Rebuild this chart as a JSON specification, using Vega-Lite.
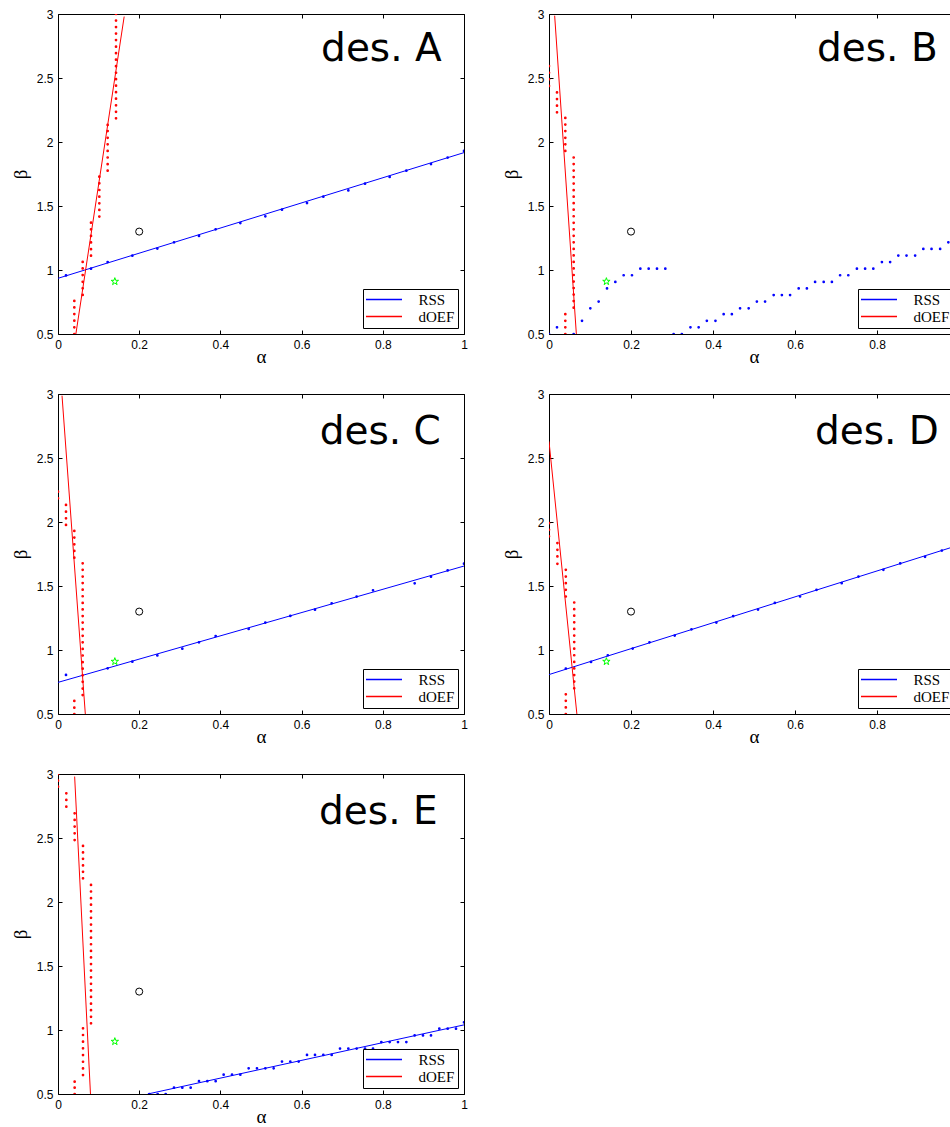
{
"$schema":"https://vega.github.io/schema/vega-lite/v6.json",
"background":"white",
"padding":{"left":10,"top":7,"right":0,"bottom":0},
"datasets":{
"ref":[{"k":"circle","a":0.2,"b":1.3},{"k":"star","a":0.14,"b":0.91}],
"lab":[{"p":"A","t":"des. A","a":0.945,"b":2.63},{"p":"B","t":"des. B","a":0.948,"b":2.635},{"p":"C","t":"des. C","a":0.943,"b":2.607},{"p":"D","t":"des. D","a":0.951,"b":2.61},{"p":"E","t":"des. E","a":0.935,"b":2.607}],
"pts":[
{"p":"A","s":"RSS","k":"fit","a":0,"b":0.935},{"p":"A","s":"RSS","k":"fit","a":1,"b":1.917},
{"p":"A","s":"dOEF","k":"fit","a":0.044,"b":0.5},{"p":"A","s":"dOEF","k":"fit","a":0.163,"b":2.98},
{"p":"A","s":"RSS","k":"dot","a":0.0197,"b":0.958},{"p":"A","s":"RSS","k":"dot","a":0.0813,"b":1.01},{"p":"A","s":"RSS","k":"dot","a":0.1223,"b":1.062},{"p":"A","s":"RSS","k":"dot","a":0.1831,"b":1.112},{"p":"A","s":"RSS","k":"dot","a":0.2447,"b":1.167},{"p":"A","s":"RSS","k":"dot","a":0.2858,"b":1.216},{"p":"A","s":"RSS","k":"dot","a":0.3473,"b":1.266},{"p":"A","s":"RSS","k":"dot","a":0.3883,"b":1.318},{"p":"A","s":"RSS","k":"dot","a":0.4491,"b":1.367},{"p":"A","s":"RSS","k":"dot","a":0.5107,"b":1.419},{"p":"A","s":"RSS","k":"dot","a":0.5517,"b":1.471},{"p":"A","s":"RSS","k":"dot","a":0.6133,"b":1.523},{"p":"A","s":"RSS","k":"dot","a":0.6535,"b":1.573},{"p":"A","s":"RSS","k":"dot","a":0.7151,"b":1.622},{"p":"A","s":"RSS","k":"dot","a":0.7562,"b":1.674},{"p":"A","s":"RSS","k":"dot","a":0.8169,"b":1.727},{"p":"A","s":"RSS","k":"dot","a":0.858,"b":1.776},{"p":"A","s":"RSS","k":"dot","a":0.9187,"b":1.828},{"p":"A","s":"RSS","k":"dot","a":0.9598,"b":1.878},{"p":"A","s":"RSS","k":"dot","a":1.0,"b":1.93},
{"p":"A","s":"dOEF","k":"dot","a":0.0402,"b":0.5},{"p":"A","s":"dOEF","k":"dot","a":0.0402,"b":0.552},{"p":"A","s":"dOEF","k":"dot","a":0.0402,"b":0.604},{"p":"A","s":"dOEF","k":"dot","a":0.0402,"b":0.656},{"p":"A","s":"dOEF","k":"dot","a":0.0402,"b":0.708},{"p":"A","s":"dOEF","k":"dot","a":0.0402,"b":0.758},
{"p":"A","s":"dOEF","k":"dot","a":0.0608,"b":0.805},{"p":"A","s":"dOEF","k":"dot","a":0.0608,"b":0.857},{"p":"A","s":"dOEF","k":"dot","a":0.0608,"b":0.908},{"p":"A","s":"dOEF","k":"dot","a":0.0608,"b":0.96},{"p":"A","s":"dOEF","k":"dot","a":0.0608,"b":1.012},{"p":"A","s":"dOEF","k":"dot","a":0.0608,"b":1.063},
{"p":"A","s":"dOEF","k":"dot","a":0.0813,"b":1.112},{"p":"A","s":"dOEF","k":"dot","a":0.0813,"b":1.163},{"p":"A","s":"dOEF","k":"dot","a":0.0813,"b":1.215},{"p":"A","s":"dOEF","k":"dot","a":0.0813,"b":1.266},{"p":"A","s":"dOEF","k":"dot","a":0.0813,"b":1.318},{"p":"A","s":"dOEF","k":"dot","a":0.0813,"b":1.37},
{"p":"A","s":"dOEF","k":"dot","a":0.1018,"b":1.417},{"p":"A","s":"dOEF","k":"dot","a":0.1018,"b":1.469},{"p":"A","s":"dOEF","k":"dot","a":0.1018,"b":1.521},{"p":"A","s":"dOEF","k":"dot","a":0.1018,"b":1.573},{"p":"A","s":"dOEF","k":"dot","a":0.1018,"b":1.625},{"p":"A","s":"dOEF","k":"dot","a":0.1018,"b":1.677},{"p":"A","s":"dOEF","k":"dot","a":0.1018,"b":1.729},
{"p":"A","s":"dOEF","k":"dot","a":0.1223,"b":1.776},{"p":"A","s":"dOEF","k":"dot","a":0.1223,"b":1.827},{"p":"A","s":"dOEF","k":"dot","a":0.1223,"b":1.879},{"p":"A","s":"dOEF","k":"dot","a":0.1223,"b":1.93},{"p":"A","s":"dOEF","k":"dot","a":0.1223,"b":1.982},{"p":"A","s":"dOEF","k":"dot","a":0.1223,"b":2.033},{"p":"A","s":"dOEF","k":"dot","a":0.1223,"b":2.085},{"p":"A","s":"dOEF","k":"dot","a":0.1223,"b":2.133},
{"p":"A","s":"dOEF","k":"dot","a":0.1429,"b":2.185},{"p":"A","s":"dOEF","k":"dot","a":0.1429,"b":2.236},{"p":"A","s":"dOEF","k":"dot","a":0.1429,"b":2.287},{"p":"A","s":"dOEF","k":"dot","a":0.1429,"b":2.338},{"p":"A","s":"dOEF","k":"dot","a":0.1429,"b":2.389},{"p":"A","s":"dOEF","k":"dot","a":0.1429,"b":2.44},{"p":"A","s":"dOEF","k":"dot","a":0.1429,"b":2.491},{"p":"A","s":"dOEF","k":"dot","a":0.1429,"b":2.541},{"p":"A","s":"dOEF","k":"dot","a":0.1429,"b":2.592},{"p":"A","s":"dOEF","k":"dot","a":0.1429,"b":2.643},{"p":"A","s":"dOEF","k":"dot","a":0.1429,"b":2.694},{"p":"A","s":"dOEF","k":"dot","a":0.1429,"b":2.745},{"p":"A","s":"dOEF","k":"dot","a":0.1429,"b":2.796},{"p":"A","s":"dOEF","k":"dot","a":0.1429,"b":2.847},{"p":"A","s":"dOEF","k":"dot","a":0.1429,"b":2.898},{"p":"A","s":"dOEF","k":"dot","a":0.1429,"b":2.949},{"p":"A","s":"dOEF","k":"dot","a":0.1429,"b":3.0},

{"p":"B","s":"dOEF","k":"fit","a":0.0138,"b":2.987},{"p":"B","s":"dOEF","k":"fit","a":0.0667,"b":0.5},
{"p":"B","s":"RSS","k":"dot","a":0,"b":0.5},{"p":"B","s":"RSS","k":"dot","a":0.0195,"b":0.552},{"p":"B","s":"RSS","k":"dot","a":0.0602,"b":0.5},{"p":"B","s":"RSS","k":"dot","a":0.0805,"b":0.603},{"p":"B","s":"RSS","k":"dot","a":0.1008,"b":0.701},{"p":"B","s":"RSS","k":"dot","a":0.1211,"b":0.753},{"p":"B","s":"RSS","k":"dot","a":0.1415,"b":0.856},{"p":"B","s":"RSS","k":"dot","a":0.1618,"b":0.907},{"p":"B","s":"RSS","k":"dot","a":0.1821,"b":0.959},{"p":"B","s":"RSS","k":"dot","a":0.2024,"b":0.959},{"p":"B","s":"RSS","k":"dot","a":0.2228,"b":1.01},{"p":"B","s":"RSS","k":"dot","a":0.2431,"b":1.01},{"p":"B","s":"RSS","k":"dot","a":0.2634,"b":1.01},{"p":"B","s":"RSS","k":"dot","a":0.2837,"b":1.01},
{"p":"B","s":"RSS","k":"dot","a":0.304,"b":0.5},{"p":"B","s":"RSS","k":"dot","a":0.324,"b":0.5},{"p":"B","s":"RSS","k":"dot","a":0.345,"b":0.552},{"p":"B","s":"RSS","k":"dot","a":0.365,"b":0.552},{"p":"B","s":"RSS","k":"dot","a":0.385,"b":0.603},{"p":"B","s":"RSS","k":"dot","a":0.406,"b":0.603},{"p":"B","s":"RSS","k":"dot","a":0.426,"b":0.655},{"p":"B","s":"RSS","k":"dot","a":0.446,"b":0.655},{"p":"B","s":"RSS","k":"dot","a":0.466,"b":0.701},{"p":"B","s":"RSS","k":"dot","a":0.487,"b":0.701},{"p":"B","s":"RSS","k":"dot","a":0.507,"b":0.753},{"p":"B","s":"RSS","k":"dot","a":0.527,"b":0.753},{"p":"B","s":"RSS","k":"dot","a":0.548,"b":0.804},{"p":"B","s":"RSS","k":"dot","a":0.568,"b":0.804},{"p":"B","s":"RSS","k":"dot","a":0.588,"b":0.804},{"p":"B","s":"RSS","k":"dot","a":0.609,"b":0.856},{"p":"B","s":"RSS","k":"dot","a":0.629,"b":0.856},{"p":"B","s":"RSS","k":"dot","a":0.649,"b":0.907},{"p":"B","s":"RSS","k":"dot","a":0.67,"b":0.907},{"p":"B","s":"RSS","k":"dot","a":0.69,"b":0.907},{"p":"B","s":"RSS","k":"dot","a":0.71,"b":0.959},{"p":"B","s":"RSS","k":"dot","a":0.73,"b":0.959},{"p":"B","s":"RSS","k":"dot","a":0.751,"b":1.01},{"p":"B","s":"RSS","k":"dot","a":0.771,"b":1.01},{"p":"B","s":"RSS","k":"dot","a":0.791,"b":1.01},{"p":"B","s":"RSS","k":"dot","a":0.812,"b":1.062},{"p":"B","s":"RSS","k":"dot","a":0.832,"b":1.062},{"p":"B","s":"RSS","k":"dot","a":0.852,"b":1.113},{"p":"B","s":"RSS","k":"dot","a":0.872,"b":1.113},{"p":"B","s":"RSS","k":"dot","a":0.893,"b":1.113},{"p":"B","s":"RSS","k":"dot","a":0.913,"b":1.165},{"p":"B","s":"RSS","k":"dot","a":0.933,"b":1.165},{"p":"B","s":"RSS","k":"dot","a":0.954,"b":1.165},{"p":"B","s":"RSS","k":"dot","a":0.974,"b":1.216},{"p":"B","s":"RSS","k":"dot","a":0.994,"b":1.216},
{"p":"B","s":"dOEF","k":"dot","a":0,"b":2.438},{"p":"B","s":"dOEF","k":"dot","a":0,"b":2.49},{"p":"B","s":"dOEF","k":"dot","a":0,"b":2.541},{"p":"B","s":"dOEF","k":"dot","a":0,"b":2.593},
{"p":"B","s":"dOEF","k":"dot","a":0.0195,"b":2.232},{"p":"B","s":"dOEF","k":"dot","a":0.0195,"b":2.284},{"p":"B","s":"dOEF","k":"dot","a":0.0195,"b":2.335},{"p":"B","s":"dOEF","k":"dot","a":0.0195,"b":2.387},
{"p":"B","s":"dOEF","k":"dot","a":0.0398,"b":1.93},{"p":"B","s":"dOEF","k":"dot","a":0.0398,"b":1.982},{"p":"B","s":"dOEF","k":"dot","a":0.0398,"b":2.033},{"p":"B","s":"dOEF","k":"dot","a":0.0398,"b":2.085},{"p":"B","s":"dOEF","k":"dot","a":0.0398,"b":2.136},{"p":"B","s":"dOEF","k":"dot","a":0.0398,"b":2.188},
{"p":"B","s":"dOEF","k":"dot","a":0.0398,"b":0.5},{"p":"B","s":"dOEF","k":"dot","a":0.0398,"b":0.552},{"p":"B","s":"dOEF","k":"dot","a":0.0398,"b":0.603},{"p":"B","s":"dOEF","k":"dot","a":0.0398,"b":0.655},
{"p":"B","s":"dOEF","k":"dot","a":0.0602,"b":0.706},{"p":"B","s":"dOEF","k":"dot","a":0.0602,"b":0.757},{"p":"B","s":"dOEF","k":"dot","a":0.0602,"b":0.808},{"p":"B","s":"dOEF","k":"dot","a":0.0602,"b":0.859},{"p":"B","s":"dOEF","k":"dot","a":0.0602,"b":0.91},{"p":"B","s":"dOEF","k":"dot","a":0.0602,"b":0.961},{"p":"B","s":"dOEF","k":"dot","a":0.0602,"b":1.012},{"p":"B","s":"dOEF","k":"dot","a":0.0602,"b":1.063},{"p":"B","s":"dOEF","k":"dot","a":0.0602,"b":1.114},{"p":"B","s":"dOEF","k":"dot","a":0.0602,"b":1.165},{"p":"B","s":"dOEF","k":"dot","a":0.0602,"b":1.216},{"p":"B","s":"dOEF","k":"dot","a":0.0602,"b":1.267},{"p":"B","s":"dOEF","k":"dot","a":0.0602,"b":1.318},{"p":"B","s":"dOEF","k":"dot","a":0.0602,"b":1.369},{"p":"B","s":"dOEF","k":"dot","a":0.0602,"b":1.42},{"p":"B","s":"dOEF","k":"dot","a":0.0602,"b":1.471},{"p":"B","s":"dOEF","k":"dot","a":0.0602,"b":1.522},{"p":"B","s":"dOEF","k":"dot","a":0.0602,"b":1.573},{"p":"B","s":"dOEF","k":"dot","a":0.0602,"b":1.624},{"p":"B","s":"dOEF","k":"dot","a":0.0602,"b":1.675},{"p":"B","s":"dOEF","k":"dot","a":0.0602,"b":1.726},{"p":"B","s":"dOEF","k":"dot","a":0.0602,"b":1.777},{"p":"B","s":"dOEF","k":"dot","a":0.0602,"b":1.828},{"p":"B","s":"dOEF","k":"dot","a":0.0602,"b":1.879},

{"p":"C","s":"RSS","k":"fit","a":0,"b":0.747},{"p":"C","s":"RSS","k":"fit","a":1,"b":1.656},
{"p":"C","s":"dOEF","k":"fit","a":0.0099,"b":2.987},{"p":"C","s":"dOEF","k":"fit","a":0.0673,"b":0.5},
{"p":"C","s":"RSS","k":"dot","a":0.0197,"b":0.805},{"p":"C","s":"RSS","k":"dot","a":0.1223,"b":0.857},{"p":"C","s":"RSS","k":"dot","a":0.1831,"b":0.909},{"p":"C","s":"RSS","k":"dot","a":0.2447,"b":0.958},{"p":"C","s":"RSS","k":"dot","a":0.3062,"b":1.01},{"p":"C","s":"RSS","k":"dot","a":0.3473,"b":1.06},{"p":"C","s":"RSS","k":"dot","a":0.3883,"b":1.109},{"p":"C","s":"RSS","k":"dot","a":0.4696,"b":1.164},{"p":"C","s":"RSS","k":"dot","a":0.5107,"b":1.214},{"p":"C","s":"RSS","k":"dot","a":0.5722,"b":1.266},{"p":"C","s":"RSS","k":"dot","a":0.633,"b":1.315},{"p":"C","s":"RSS","k":"dot","a":0.6741,"b":1.365},{"p":"C","s":"RSS","k":"dot","a":0.7356,"b":1.417},{"p":"C","s":"RSS","k":"dot","a":0.7759,"b":1.466},{"p":"C","s":"RSS","k":"dot","a":0.8785,"b":1.521},{"p":"C","s":"RSS","k":"dot","a":0.9187,"b":1.573},{"p":"C","s":"RSS","k":"dot","a":0.9598,"b":1.622},{"p":"C","s":"RSS","k":"dot","a":1.0,"b":1.674},
{"p":"C","s":"dOEF","k":"dot","a":0,"b":2.185},{"p":"C","s":"dOEF","k":"dot","a":0,"b":2.237},
{"p":"C","s":"dOEF","k":"dot","a":0.0197,"b":1.977},{"p":"C","s":"dOEF","k":"dot","a":0.0197,"b":2.029},{"p":"C","s":"dOEF","k":"dot","a":0.0197,"b":2.081},{"p":"C","s":"dOEF","k":"dot","a":0.0197,"b":2.133},
{"p":"C","s":"dOEF","k":"dot","a":0.0402,"b":1.721},{"p":"C","s":"dOEF","k":"dot","a":0.0402,"b":1.774},{"p":"C","s":"dOEF","k":"dot","a":0.0402,"b":1.826},{"p":"C","s":"dOEF","k":"dot","a":0.0402,"b":1.878},{"p":"C","s":"dOEF","k":"dot","a":0.0402,"b":1.93},
{"p":"C","s":"dOEF","k":"dot","a":0.0402,"b":0.5},{"p":"C","s":"dOEF","k":"dot","a":0.0402,"b":0.549},{"p":"C","s":"dOEF","k":"dot","a":0.0402,"b":0.602},
{"p":"C","s":"dOEF","k":"dot","a":0.0608,"b":0.648},{"p":"C","s":"dOEF","k":"dot","a":0.0608,"b":0.699},{"p":"C","s":"dOEF","k":"dot","a":0.0608,"b":0.751},{"p":"C","s":"dOEF","k":"dot","a":0.0608,"b":0.802},{"p":"C","s":"dOEF","k":"dot","a":0.0608,"b":0.854},{"p":"C","s":"dOEF","k":"dot","a":0.0608,"b":0.905},{"p":"C","s":"dOEF","k":"dot","a":0.0608,"b":0.957},{"p":"C","s":"dOEF","k":"dot","a":0.0608,"b":1.008},{"p":"C","s":"dOEF","k":"dot","a":0.0608,"b":1.06},{"p":"C","s":"dOEF","k":"dot","a":0.0608,"b":1.111},{"p":"C","s":"dOEF","k":"dot","a":0.0608,"b":1.163},{"p":"C","s":"dOEF","k":"dot","a":0.0608,"b":1.214},{"p":"C","s":"dOEF","k":"dot","a":0.0608,"b":1.265},{"p":"C","s":"dOEF","k":"dot","a":0.0608,"b":1.317},{"p":"C","s":"dOEF","k":"dot","a":0.0608,"b":1.368},{"p":"C","s":"dOEF","k":"dot","a":0.0608,"b":1.42},{"p":"C","s":"dOEF","k":"dot","a":0.0608,"b":1.471},{"p":"C","s":"dOEF","k":"dot","a":0.0608,"b":1.523},{"p":"C","s":"dOEF","k":"dot","a":0.0608,"b":1.574},{"p":"C","s":"dOEF","k":"dot","a":0.0608,"b":1.626},{"p":"C","s":"dOEF","k":"dot","a":0.0608,"b":1.677},

{"p":"D","s":"RSS","k":"fit","a":0,"b":0.808},{"p":"D","s":"RSS","k":"fit","a":1,"b":1.82},
{"p":"D","s":"dOEF","k":"fit","a":0,"b":2.63},{"p":"D","s":"dOEF","k":"fit","a":0.068,"b":0.5},
{"p":"D","s":"RSS","k":"dot","a":0.041,"b":0.855},{"p":"D","s":"RSS","k":"dot","a":0.1025,"b":0.907},{"p":"D","s":"RSS","k":"dot","a":0.1434,"b":0.959},{"p":"D","s":"RSS","k":"dot","a":0.2041,"b":1.011},{"p":"D","s":"RSS","k":"dot","a":0.2451,"b":1.06},{"p":"D","s":"RSS","k":"dot","a":0.3066,"b":1.113},{"p":"D","s":"RSS","k":"dot","a":0.3475,"b":1.162},{"p":"D","s":"RSS","k":"dot","a":0.4082,"b":1.214},{"p":"D","s":"RSS","k":"dot","a":0.4492,"b":1.264},{"p":"D","s":"RSS","k":"dot","a":0.5098,"b":1.316},{"p":"D","s":"RSS","k":"dot","a":0.5508,"b":1.368},{"p":"D","s":"RSS","k":"dot","a":0.6123,"b":1.418},{"p":"D","s":"RSS","k":"dot","a":0.6525,"b":1.47},{"p":"D","s":"RSS","k":"dot","a":0.7139,"b":1.522},{"p":"D","s":"RSS","k":"dot","a":0.7549,"b":1.574},{"p":"D","s":"RSS","k":"dot","a":0.8156,"b":1.626},{"p":"D","s":"RSS","k":"dot","a":0.8566,"b":1.676},{"p":"D","s":"RSS","k":"dot","a":0.9172,"b":1.728},{"p":"D","s":"RSS","k":"dot","a":0.9582,"b":1.777},{"p":"D","s":"RSS","k":"dot","a":0.999,"b":1.83},
{"p":"D","s":"dOEF","k":"dot","a":0,"b":1.888},{"p":"D","s":"dOEF","k":"dot","a":0,"b":1.939},{"p":"D","s":"dOEF","k":"dot","a":0,"b":1.991},
{"p":"D","s":"dOEF","k":"dot","a":0.0205,"b":1.673},{"p":"D","s":"dOEF","k":"dot","a":0.0205,"b":1.731},{"p":"D","s":"dOEF","k":"dot","a":0.0205,"b":1.783},{"p":"D","s":"dOEF","k":"dot","a":0.0205,"b":1.835},
{"p":"D","s":"dOEF","k":"dot","a":0.041,"b":1.418},{"p":"D","s":"dOEF","k":"dot","a":0.041,"b":1.47},{"p":"D","s":"dOEF","k":"dot","a":0.041,"b":1.522},{"p":"D","s":"dOEF","k":"dot","a":0.041,"b":1.574},{"p":"D","s":"dOEF","k":"dot","a":0.041,"b":1.626},
{"p":"D","s":"dOEF","k":"dot","a":0.041,"b":0.5},{"p":"D","s":"dOEF","k":"dot","a":0.041,"b":0.551},{"p":"D","s":"dOEF","k":"dot","a":0.041,"b":0.603},{"p":"D","s":"dOEF","k":"dot","a":0.041,"b":0.654},
{"p":"D","s":"dOEF","k":"dot","a":0.0615,"b":0.701},{"p":"D","s":"dOEF","k":"dot","a":0.0615,"b":0.753},{"p":"D","s":"dOEF","k":"dot","a":0.0615,"b":0.804},{"p":"D","s":"dOEF","k":"dot","a":0.0615,"b":0.856},{"p":"D","s":"dOEF","k":"dot","a":0.0615,"b":0.907},{"p":"D","s":"dOEF","k":"dot","a":0.0615,"b":0.959},{"p":"D","s":"dOEF","k":"dot","a":0.0615,"b":1.01},{"p":"D","s":"dOEF","k":"dot","a":0.0615,"b":1.062},{"p":"D","s":"dOEF","k":"dot","a":0.0615,"b":1.113},{"p":"D","s":"dOEF","k":"dot","a":0.0615,"b":1.165},{"p":"D","s":"dOEF","k":"dot","a":0.0615,"b":1.216},{"p":"D","s":"dOEF","k":"dot","a":0.0615,"b":1.268},{"p":"D","s":"dOEF","k":"dot","a":0.0615,"b":1.319},{"p":"D","s":"dOEF","k":"dot","a":0.0615,"b":1.371},

{"p":"E","s":"RSS","k":"fit","a":0.221,"b":0.5},{"p":"E","s":"RSS","k":"fit","a":1,"b":1.04},
{"p":"E","s":"dOEF","k":"fit","a":0.041,"b":2.98},{"p":"E","s":"dOEF","k":"fit","a":0.08,"b":0.5},
{"p":"E","s":"RSS","k":"dot","a":0.225,"b":0.5},{"p":"E","s":"RSS","k":"dot","a":0.2455,"b":0.5},{"p":"E","s":"RSS","k":"dot","a":0.2652,"b":0.5},{"p":"E","s":"RSS","k":"dot","a":0.2857,"b":0.549},{"p":"E","s":"RSS","k":"dot","a":0.3062,"b":0.549},{"p":"E","s":"RSS","k":"dot","a":0.3268,"b":0.549},{"p":"E","s":"RSS","k":"dot","a":0.3473,"b":0.6},{"p":"E","s":"RSS","k":"dot","a":0.3678,"b":0.6},{"p":"E","s":"RSS","k":"dot","a":0.3883,"b":0.6},{"p":"E","s":"RSS","k":"dot","a":0.408,"b":0.651},{"p":"E","s":"RSS","k":"dot","a":0.4286,"b":0.651},{"p":"E","s":"RSS","k":"dot","a":0.4491,"b":0.651},{"p":"E","s":"RSS","k":"dot","a":0.4696,"b":0.701},{"p":"E","s":"RSS","k":"dot","a":0.4901,"b":0.701},{"p":"E","s":"RSS","k":"dot","a":0.5107,"b":0.701},{"p":"E","s":"RSS","k":"dot","a":0.5312,"b":0.701},{"p":"E","s":"RSS","k":"dot","a":0.5517,"b":0.753},{"p":"E","s":"RSS","k":"dot","a":0.5722,"b":0.753},{"p":"E","s":"RSS","k":"dot","a":0.5928,"b":0.753},{"p":"E","s":"RSS","k":"dot","a":0.6133,"b":0.805},{"p":"E","s":"RSS","k":"dot","a":0.633,"b":0.805},{"p":"E","s":"RSS","k":"dot","a":0.6535,"b":0.805},{"p":"E","s":"RSS","k":"dot","a":0.6741,"b":0.805},{"p":"E","s":"RSS","k":"dot","a":0.6946,"b":0.855},{"p":"E","s":"RSS","k":"dot","a":0.7151,"b":0.855},{"p":"E","s":"RSS","k":"dot","a":0.7356,"b":0.855},{"p":"E","s":"RSS","k":"dot","a":0.7562,"b":0.855},{"p":"E","s":"RSS","k":"dot","a":0.7759,"b":0.855},{"p":"E","s":"RSS","k":"dot","a":0.7964,"b":0.906},{"p":"E","s":"RSS","k":"dot","a":0.8169,"b":0.906},{"p":"E","s":"RSS","k":"dot","a":0.8374,"b":0.906},{"p":"E","s":"RSS","k":"dot","a":0.858,"b":0.906},{"p":"E","s":"RSS","k":"dot","a":0.8785,"b":0.958},{"p":"E","s":"RSS","k":"dot","a":0.899,"b":0.958},{"p":"E","s":"RSS","k":"dot","a":0.9187,"b":0.958},{"p":"E","s":"RSS","k":"dot","a":0.9392,"b":1.01},{"p":"E","s":"RSS","k":"dot","a":0.9598,"b":1.01},{"p":"E","s":"RSS","k":"dot","a":0.9803,"b":1.01},{"p":"E","s":"RSS","k":"dot","a":1.0,"b":1.06},
{"p":"E","s":"dOEF","k":"dot","a":0,"b":2.901},{"p":"E","s":"dOEF","k":"dot","a":0,"b":2.948},{"p":"E","s":"dOEF","k":"dot","a":0,"b":3.0},
{"p":"E","s":"dOEF","k":"dot","a":0.0205,"b":2.745},{"p":"E","s":"dOEF","k":"dot","a":0.0205,"b":2.797},{"p":"E","s":"dOEF","k":"dot","a":0.0205,"b":2.849},
{"p":"E","s":"dOEF","k":"dot","a":0.041,"b":2.484},{"p":"E","s":"dOEF","k":"dot","a":0.041,"b":2.537},{"p":"E","s":"dOEF","k":"dot","a":0.041,"b":2.589},{"p":"E","s":"dOEF","k":"dot","a":0.041,"b":2.641},{"p":"E","s":"dOEF","k":"dot","a":0.041,"b":2.693},
{"p":"E","s":"dOEF","k":"dot","a":0.041,"b":0.5},{"p":"E","s":"dOEF","k":"dot","a":0.041,"b":0.549},{"p":"E","s":"dOEF","k":"dot","a":0.041,"b":0.596},
{"p":"E","s":"dOEF","k":"dot","a":0.0616,"b":2.185},{"p":"E","s":"dOEF","k":"dot","a":0.0616,"b":2.236},{"p":"E","s":"dOEF","k":"dot","a":0.0616,"b":2.286},{"p":"E","s":"dOEF","k":"dot","a":0.0616,"b":2.337},{"p":"E","s":"dOEF","k":"dot","a":0.0616,"b":2.387},{"p":"E","s":"dOEF","k":"dot","a":0.0616,"b":2.438},
{"p":"E","s":"dOEF","k":"dot","a":0.0616,"b":0.648},{"p":"E","s":"dOEF","k":"dot","a":0.0616,"b":0.7},{"p":"E","s":"dOEF","k":"dot","a":0.0616,"b":0.752},{"p":"E","s":"dOEF","k":"dot","a":0.0616,"b":0.804},{"p":"E","s":"dOEF","k":"dot","a":0.0616,"b":0.857},{"p":"E","s":"dOEF","k":"dot","a":0.0616,"b":0.909},{"p":"E","s":"dOEF","k":"dot","a":0.0616,"b":0.961},{"p":"E","s":"dOEF","k":"dot","a":0.0616,"b":1.013},
{"p":"E","s":"dOEF","k":"dot","a":0.0813,"b":1.052},{"p":"E","s":"dOEF","k":"dot","a":0.0813,"b":1.103},{"p":"E","s":"dOEF","k":"dot","a":0.0813,"b":1.155},{"p":"E","s":"dOEF","k":"dot","a":0.0813,"b":1.206},{"p":"E","s":"dOEF","k":"dot","a":0.0813,"b":1.258},{"p":"E","s":"dOEF","k":"dot","a":0.0813,"b":1.309},{"p":"E","s":"dOEF","k":"dot","a":0.0813,"b":1.361},{"p":"E","s":"dOEF","k":"dot","a":0.0813,"b":1.412},{"p":"E","s":"dOEF","k":"dot","a":0.0813,"b":1.464},{"p":"E","s":"dOEF","k":"dot","a":0.0813,"b":1.515},{"p":"E","s":"dOEF","k":"dot","a":0.0813,"b":1.567},{"p":"E","s":"dOEF","k":"dot","a":0.0813,"b":1.618},{"p":"E","s":"dOEF","k":"dot","a":0.0813,"b":1.67},{"p":"E","s":"dOEF","k":"dot","a":0.0813,"b":1.721},{"p":"E","s":"dOEF","k":"dot","a":0.0813,"b":1.773},{"p":"E","s":"dOEF","k":"dot","a":0.0813,"b":1.824},{"p":"E","s":"dOEF","k":"dot","a":0.0813,"b":1.876},{"p":"E","s":"dOEF","k":"dot","a":0.0813,"b":1.927},{"p":"E","s":"dOEF","k":"dot","a":0.0813,"b":1.979},{"p":"E","s":"dOEF","k":"dot","a":0.0813,"b":2.03},{"p":"E","s":"dOEF","k":"dot","a":0.0813,"b":2.082},{"p":"E","s":"dOEF","k":"dot","a":0.0813,"b":2.133}
]},
"columns":2,
"spacing":{"row":60,"column":85},
"bounds":"flush",
"align":"each",
"resolve":{"scale":{"x":"independent","y":"independent","color":"independent"},"legend":{"color":"independent"},"axis":{"x":"independent","y":"independent"}},
"concat":[
{"width":406,"height":320,"resolve":{"axis":{"x":"independent","y":"independent"}},"layer":[
 {"data":{"name":"pts"},"transform":[{"filter":"datum.p==='A' && datum.k==='fit'"}],"mark":{"type":"line","strokeWidth":1,"clip":true},"encoding":{"x":{"field":"a","type":"quantitative","scale":{"domain":[0,1],"nice":false,"zero":false},"axis":{"orient":"bottom","values":[0,0.2,0.4,0.6,0.8,1],"format":"~g","title":"α"}},"y":{"field":"b","type":"quantitative","scale":{"domain":[0.5,3],"nice":false,"zero":false},"axis":{"orient":"left","values":[0.5,1,1.5,2,2.5,3],"format":"~g","title":"β"}},"color":{"field":"s","type":"nominal","scale":{"domain":["RSS","dOEF"],"range":["#0000ff","#ff0000"]},"legend":{"orient":"bottom-right","title":null,"offset":6,"padding":3,"fillColor":"white","strokeColor":"black","cornerRadius":0,"symbolType":"M-3,0L3,0","symbolSize":144,"symbolStrokeWidth":1.3,"symbolOffset":10.5,"labelOffset":27,"labelFont":"Liberation Serif","labelFontSize":15,"labelColor":"black","rowPadding":1}}}},
 {"data":{"name":"pts"},"transform":[{"filter":"datum.p==='A' && datum.k==='dot'"}],"mark":{"type":"point","filled":false,"size":1.5,"strokeWidth":1.5,"opacity":1,"clip":true},"encoding":{"x":{"field":"a","type":"quantitative","scale":{"domain":[0,1],"nice":false,"zero":false},"axis":null},"y":{"field":"b","type":"quantitative","scale":{"domain":[0.5,3],"nice":false,"zero":false},"axis":null},"color":{"field":"s","type":"nominal","scale":{"domain":["RSS","dOEF"],"range":["#0000ff","#ff0000"]}}}},
 {"data":{"name":"ref"},"transform":[{"filter":"datum.k==='circle'"}],"mark":{"type":"point","shape":"circle","filled":false,"size":50,"color":"black","strokeWidth":1,"opacity":1},"encoding":{"x":{"field":"a","type":"quantitative","scale":{"domain":[0,1],"nice":false,"zero":false},"axis":null},"y":{"field":"b","type":"quantitative","scale":{"domain":[0.5,3],"nice":false,"zero":false},"axis":null}}},
 {"data":{"name":"ref"},"transform":[{"filter":"datum.k==='star'"}],"mark":{"type":"point","shape":"M0,-1L0.2245,-0.309L0.951,-0.309L0.3633,0.118L0.588,0.809L0,0.382L-0.588,0.809L-0.3633,0.118L-0.951,-0.309L-0.2245,-0.309Z","filled":false,"size":60,"color":"#00ff00","strokeWidth":1,"opacity":1},"encoding":{"x":{"field":"a","type":"quantitative","scale":{"domain":[0,1],"nice":false,"zero":false},"axis":null},"y":{"field":"b","type":"quantitative","scale":{"domain":[0.5,3],"nice":false,"zero":false},"axis":null}}},
 {"data":{"name":"lab"},"transform":[{"filter":"datum.p==='A'"}],"mark":{"type":"text","align":"right","baseline":"alphabetic","font":"DejaVu Sans","fontSize":39,"color":"black"},"encoding":{"x":{"field":"a","type":"quantitative","scale":{"domain":[0,1],"nice":false,"zero":false},"axis":null},"y":{"field":"b","type":"quantitative","scale":{"domain":[0.5,3],"nice":false,"zero":false},"axis":null},"text":{"field":"t"}}},
 {"data":{"name":"ref"},"mark":{"type":"point","opacity":0},"encoding":{"x":{"field":"a","type":"quantitative","scale":{"domain":[0,1],"nice":false,"zero":false},"axis":{"orient":"top","values":[0,0.2,0.4,0.6,0.8,1],"labels":false,"title":null}},"y":{"field":"b","type":"quantitative","scale":{"domain":[0.5,3],"nice":false,"zero":false},"axis":{"orient":"right","values":[0.5,1,1.5,2,2.5,3],"labels":false,"title":null}}}}
]},
{"width":410,"height":320,"resolve":{"axis":{"x":"independent","y":"independent"}},"layer":[
 {"data":{"name":"pts"},"transform":[{"filter":"datum.p==='B' && datum.k==='fit'"}],"mark":{"type":"line","strokeWidth":1,"clip":true},"encoding":{"x":{"field":"a","type":"quantitative","scale":{"domain":[0,1],"nice":false,"zero":false},"axis":{"orient":"bottom","values":[0,0.2,0.4,0.6,0.8,1],"format":"~g","title":"α"}},"y":{"field":"b","type":"quantitative","scale":{"domain":[0.5,3],"nice":false,"zero":false},"axis":{"orient":"left","values":[0.5,1,1.5,2,2.5,3],"format":"~g","title":"β"}},"color":{"field":"s","type":"nominal","scale":{"domain":["RSS","dOEF"],"range":["#0000ff","#ff0000"]},"legend":{"orient":"bottom-right","title":null,"offset":6,"padding":3,"fillColor":"white","strokeColor":"black","cornerRadius":0,"symbolType":"M-3,0L3,0","symbolSize":144,"symbolStrokeWidth":1.3,"symbolOffset":10.5,"labelOffset":27,"labelFont":"Liberation Serif","labelFontSize":15,"labelColor":"black","rowPadding":1}}}},
 {"data":{"name":"pts"},"transform":[{"filter":"datum.p==='B' && datum.k==='dot'"}],"mark":{"type":"point","filled":false,"size":1.5,"strokeWidth":1.5,"opacity":1,"clip":true},"encoding":{"x":{"field":"a","type":"quantitative","scale":{"domain":[0,1],"nice":false,"zero":false},"axis":null},"y":{"field":"b","type":"quantitative","scale":{"domain":[0.5,3],"nice":false,"zero":false},"axis":null},"color":{"field":"s","type":"nominal","scale":{"domain":["RSS","dOEF"],"range":["#0000ff","#ff0000"]}}}},
 {"data":{"name":"ref"},"transform":[{"filter":"datum.k==='circle'"}],"mark":{"type":"point","shape":"circle","filled":false,"size":50,"color":"black","strokeWidth":1,"opacity":1},"encoding":{"x":{"field":"a","type":"quantitative","scale":{"domain":[0,1],"nice":false,"zero":false},"axis":null},"y":{"field":"b","type":"quantitative","scale":{"domain":[0.5,3],"nice":false,"zero":false},"axis":null}}},
 {"data":{"name":"ref"},"transform":[{"filter":"datum.k==='star'"}],"mark":{"type":"point","shape":"M0,-1L0.2245,-0.309L0.951,-0.309L0.3633,0.118L0.588,0.809L0,0.382L-0.588,0.809L-0.3633,0.118L-0.951,-0.309L-0.2245,-0.309Z","filled":false,"size":60,"color":"#00ff00","strokeWidth":1,"opacity":1},"encoding":{"x":{"field":"a","type":"quantitative","scale":{"domain":[0,1],"nice":false,"zero":false},"axis":null},"y":{"field":"b","type":"quantitative","scale":{"domain":[0.5,3],"nice":false,"zero":false},"axis":null}}},
 {"data":{"name":"lab"},"transform":[{"filter":"datum.p==='B'"}],"mark":{"type":"text","align":"right","baseline":"alphabetic","font":"DejaVu Sans","fontSize":39,"color":"black"},"encoding":{"x":{"field":"a","type":"quantitative","scale":{"domain":[0,1],"nice":false,"zero":false},"axis":null},"y":{"field":"b","type":"quantitative","scale":{"domain":[0.5,3],"nice":false,"zero":false},"axis":null},"text":{"field":"t"}}},
 {"data":{"name":"ref"},"mark":{"type":"point","opacity":0},"encoding":{"x":{"field":"a","type":"quantitative","scale":{"domain":[0,1],"nice":false,"zero":false},"axis":{"orient":"top","values":[0,0.2,0.4,0.6,0.8,1],"labels":false,"title":null}},"y":{"field":"b","type":"quantitative","scale":{"domain":[0.5,3],"nice":false,"zero":false},"axis":{"orient":"right","values":[0.5,1,1.5,2,2.5,3],"labels":false,"title":null}}}}
]},
{"width":406,"height":320,"resolve":{"axis":{"x":"independent","y":"independent"}},"layer":[
 {"data":{"name":"pts"},"transform":[{"filter":"datum.p==='C' && datum.k==='fit'"}],"mark":{"type":"line","strokeWidth":1,"clip":true},"encoding":{"x":{"field":"a","type":"quantitative","scale":{"domain":[0,1],"nice":false,"zero":false},"axis":{"orient":"bottom","values":[0,0.2,0.4,0.6,0.8,1],"format":"~g","title":"α"}},"y":{"field":"b","type":"quantitative","scale":{"domain":[0.5,3],"nice":false,"zero":false},"axis":{"orient":"left","values":[0.5,1,1.5,2,2.5,3],"format":"~g","title":"β"}},"color":{"field":"s","type":"nominal","scale":{"domain":["RSS","dOEF"],"range":["#0000ff","#ff0000"]},"legend":{"orient":"bottom-right","title":null,"offset":6,"padding":3,"fillColor":"white","strokeColor":"black","cornerRadius":0,"symbolType":"M-3,0L3,0","symbolSize":144,"symbolStrokeWidth":1.3,"symbolOffset":10.5,"labelOffset":27,"labelFont":"Liberation Serif","labelFontSize":15,"labelColor":"black","rowPadding":1}}}},
 {"data":{"name":"pts"},"transform":[{"filter":"datum.p==='C' && datum.k==='dot'"}],"mark":{"type":"point","filled":false,"size":1.5,"strokeWidth":1.5,"opacity":1,"clip":true},"encoding":{"x":{"field":"a","type":"quantitative","scale":{"domain":[0,1],"nice":false,"zero":false},"axis":null},"y":{"field":"b","type":"quantitative","scale":{"domain":[0.5,3],"nice":false,"zero":false},"axis":null},"color":{"field":"s","type":"nominal","scale":{"domain":["RSS","dOEF"],"range":["#0000ff","#ff0000"]}}}},
 {"data":{"name":"ref"},"transform":[{"filter":"datum.k==='circle'"}],"mark":{"type":"point","shape":"circle","filled":false,"size":50,"color":"black","strokeWidth":1,"opacity":1},"encoding":{"x":{"field":"a","type":"quantitative","scale":{"domain":[0,1],"nice":false,"zero":false},"axis":null},"y":{"field":"b","type":"quantitative","scale":{"domain":[0.5,3],"nice":false,"zero":false},"axis":null}}},
 {"data":{"name":"ref"},"transform":[{"filter":"datum.k==='star'"}],"mark":{"type":"point","shape":"M0,-1L0.2245,-0.309L0.951,-0.309L0.3633,0.118L0.588,0.809L0,0.382L-0.588,0.809L-0.3633,0.118L-0.951,-0.309L-0.2245,-0.309Z","filled":false,"size":60,"color":"#00ff00","strokeWidth":1,"opacity":1},"encoding":{"x":{"field":"a","type":"quantitative","scale":{"domain":[0,1],"nice":false,"zero":false},"axis":null},"y":{"field":"b","type":"quantitative","scale":{"domain":[0.5,3],"nice":false,"zero":false},"axis":null}}},
 {"data":{"name":"lab"},"transform":[{"filter":"datum.p==='C'"}],"mark":{"type":"text","align":"right","baseline":"alphabetic","font":"DejaVu Sans","fontSize":39,"color":"black"},"encoding":{"x":{"field":"a","type":"quantitative","scale":{"domain":[0,1],"nice":false,"zero":false},"axis":null},"y":{"field":"b","type":"quantitative","scale":{"domain":[0.5,3],"nice":false,"zero":false},"axis":null},"text":{"field":"t"}}},
 {"data":{"name":"ref"},"mark":{"type":"point","opacity":0},"encoding":{"x":{"field":"a","type":"quantitative","scale":{"domain":[0,1],"nice":false,"zero":false},"axis":{"orient":"top","values":[0,0.2,0.4,0.6,0.8,1],"labels":false,"title":null}},"y":{"field":"b","type":"quantitative","scale":{"domain":[0.5,3],"nice":false,"zero":false},"axis":{"orient":"right","values":[0.5,1,1.5,2,2.5,3],"labels":false,"title":null}}}}
]},
{"width":410,"height":320,"resolve":{"axis":{"x":"independent","y":"independent"}},"layer":[
 {"data":{"name":"pts"},"transform":[{"filter":"datum.p==='D' && datum.k==='fit'"}],"mark":{"type":"line","strokeWidth":1,"clip":true},"encoding":{"x":{"field":"a","type":"quantitative","scale":{"domain":[0,1],"nice":false,"zero":false},"axis":{"orient":"bottom","values":[0,0.2,0.4,0.6,0.8,1],"format":"~g","title":"α"}},"y":{"field":"b","type":"quantitative","scale":{"domain":[0.5,3],"nice":false,"zero":false},"axis":{"orient":"left","values":[0.5,1,1.5,2,2.5,3],"format":"~g","title":"β"}},"color":{"field":"s","type":"nominal","scale":{"domain":["RSS","dOEF"],"range":["#0000ff","#ff0000"]},"legend":{"orient":"bottom-right","title":null,"offset":6,"padding":3,"fillColor":"white","strokeColor":"black","cornerRadius":0,"symbolType":"M-3,0L3,0","symbolSize":144,"symbolStrokeWidth":1.3,"symbolOffset":10.5,"labelOffset":27,"labelFont":"Liberation Serif","labelFontSize":15,"labelColor":"black","rowPadding":1}}}},
 {"data":{"name":"pts"},"transform":[{"filter":"datum.p==='D' && datum.k==='dot'"}],"mark":{"type":"point","filled":false,"size":1.5,"strokeWidth":1.5,"opacity":1,"clip":true},"encoding":{"x":{"field":"a","type":"quantitative","scale":{"domain":[0,1],"nice":false,"zero":false},"axis":null},"y":{"field":"b","type":"quantitative","scale":{"domain":[0.5,3],"nice":false,"zero":false},"axis":null},"color":{"field":"s","type":"nominal","scale":{"domain":["RSS","dOEF"],"range":["#0000ff","#ff0000"]}}}},
 {"data":{"name":"ref"},"transform":[{"filter":"datum.k==='circle'"}],"mark":{"type":"point","shape":"circle","filled":false,"size":50,"color":"black","strokeWidth":1,"opacity":1},"encoding":{"x":{"field":"a","type":"quantitative","scale":{"domain":[0,1],"nice":false,"zero":false},"axis":null},"y":{"field":"b","type":"quantitative","scale":{"domain":[0.5,3],"nice":false,"zero":false},"axis":null}}},
 {"data":{"name":"ref"},"transform":[{"filter":"datum.k==='star'"}],"mark":{"type":"point","shape":"M0,-1L0.2245,-0.309L0.951,-0.309L0.3633,0.118L0.588,0.809L0,0.382L-0.588,0.809L-0.3633,0.118L-0.951,-0.309L-0.2245,-0.309Z","filled":false,"size":60,"color":"#00ff00","strokeWidth":1,"opacity":1},"encoding":{"x":{"field":"a","type":"quantitative","scale":{"domain":[0,1],"nice":false,"zero":false},"axis":null},"y":{"field":"b","type":"quantitative","scale":{"domain":[0.5,3],"nice":false,"zero":false},"axis":null}}},
 {"data":{"name":"lab"},"transform":[{"filter":"datum.p==='D'"}],"mark":{"type":"text","align":"right","baseline":"alphabetic","font":"DejaVu Sans","fontSize":39,"color":"black"},"encoding":{"x":{"field":"a","type":"quantitative","scale":{"domain":[0,1],"nice":false,"zero":false},"axis":null},"y":{"field":"b","type":"quantitative","scale":{"domain":[0.5,3],"nice":false,"zero":false},"axis":null},"text":{"field":"t"}}},
 {"data":{"name":"ref"},"mark":{"type":"point","opacity":0},"encoding":{"x":{"field":"a","type":"quantitative","scale":{"domain":[0,1],"nice":false,"zero":false},"axis":{"orient":"top","values":[0,0.2,0.4,0.6,0.8,1],"labels":false,"title":null}},"y":{"field":"b","type":"quantitative","scale":{"domain":[0.5,3],"nice":false,"zero":false},"axis":{"orient":"right","values":[0.5,1,1.5,2,2.5,3],"labels":false,"title":null}}}}
]},
{"width":406,"height":320,"resolve":{"axis":{"x":"independent","y":"independent"}},"layer":[
 {"data":{"name":"pts"},"transform":[{"filter":"datum.p==='E' && datum.k==='fit'"}],"mark":{"type":"line","strokeWidth":1,"clip":true},"encoding":{"x":{"field":"a","type":"quantitative","scale":{"domain":[0,1],"nice":false,"zero":false},"axis":{"orient":"bottom","values":[0,0.2,0.4,0.6,0.8,1],"format":"~g","title":"α"}},"y":{"field":"b","type":"quantitative","scale":{"domain":[0.5,3],"nice":false,"zero":false},"axis":{"orient":"left","values":[0.5,1,1.5,2,2.5,3],"format":"~g","title":"β"}},"color":{"field":"s","type":"nominal","scale":{"domain":["RSS","dOEF"],"range":["#0000ff","#ff0000"]},"legend":{"orient":"bottom-right","title":null,"offset":6,"padding":3,"fillColor":"white","strokeColor":"black","cornerRadius":0,"symbolType":"M-3,0L3,0","symbolSize":144,"symbolStrokeWidth":1.3,"symbolOffset":10.5,"labelOffset":27,"labelFont":"Liberation Serif","labelFontSize":15,"labelColor":"black","rowPadding":1}}}},
 {"data":{"name":"pts"},"transform":[{"filter":"datum.p==='E' && datum.k==='dot'"}],"mark":{"type":"point","filled":false,"size":1.5,"strokeWidth":1.5,"opacity":1,"clip":true},"encoding":{"x":{"field":"a","type":"quantitative","scale":{"domain":[0,1],"nice":false,"zero":false},"axis":null},"y":{"field":"b","type":"quantitative","scale":{"domain":[0.5,3],"nice":false,"zero":false},"axis":null},"color":{"field":"s","type":"nominal","scale":{"domain":["RSS","dOEF"],"range":["#0000ff","#ff0000"]}}}},
 {"data":{"name":"ref"},"transform":[{"filter":"datum.k==='circle'"}],"mark":{"type":"point","shape":"circle","filled":false,"size":50,"color":"black","strokeWidth":1,"opacity":1},"encoding":{"x":{"field":"a","type":"quantitative","scale":{"domain":[0,1],"nice":false,"zero":false},"axis":null},"y":{"field":"b","type":"quantitative","scale":{"domain":[0.5,3],"nice":false,"zero":false},"axis":null}}},
 {"data":{"name":"ref"},"transform":[{"filter":"datum.k==='star'"}],"mark":{"type":"point","shape":"M0,-1L0.2245,-0.309L0.951,-0.309L0.3633,0.118L0.588,0.809L0,0.382L-0.588,0.809L-0.3633,0.118L-0.951,-0.309L-0.2245,-0.309Z","filled":false,"size":60,"color":"#00ff00","strokeWidth":1,"opacity":1},"encoding":{"x":{"field":"a","type":"quantitative","scale":{"domain":[0,1],"nice":false,"zero":false},"axis":null},"y":{"field":"b","type":"quantitative","scale":{"domain":[0.5,3],"nice":false,"zero":false},"axis":null}}},
 {"data":{"name":"lab"},"transform":[{"filter":"datum.p==='E'"}],"mark":{"type":"text","align":"right","baseline":"alphabetic","font":"DejaVu Sans","fontSize":39,"color":"black"},"encoding":{"x":{"field":"a","type":"quantitative","scale":{"domain":[0,1],"nice":false,"zero":false},"axis":null},"y":{"field":"b","type":"quantitative","scale":{"domain":[0.5,3],"nice":false,"zero":false},"axis":null},"text":{"field":"t"}}},
 {"data":{"name":"ref"},"mark":{"type":"point","opacity":0},"encoding":{"x":{"field":"a","type":"quantitative","scale":{"domain":[0,1],"nice":false,"zero":false},"axis":{"orient":"top","values":[0,0.2,0.4,0.6,0.8,1],"labels":false,"title":null}},"y":{"field":"b","type":"quantitative","scale":{"domain":[0.5,3],"nice":false,"zero":false},"axis":{"orient":"right","values":[0.5,1,1.5,2,2.5,3],"labels":false,"title":null}}}}
]}
],
"config":{
 "view":{"stroke":"black","strokeWidth":1},
 "axis":{"domain":false,"grid":false,"ticks":true,"tickSize":-4,"tickColor":"black","tickWidth":1,"labelFont":"Liberation Sans","labelFontSize":12,"labelColor":"black","labelPadding":9,"labelFlush":false,"titleFont":"Liberation Serif","titleFontSize":19,"titleFontWeight":"normal","titleColor":"black"},
 "axisX":{"titlePadding":-3},
 "axisY":{"titlePadding":6}
}
}
